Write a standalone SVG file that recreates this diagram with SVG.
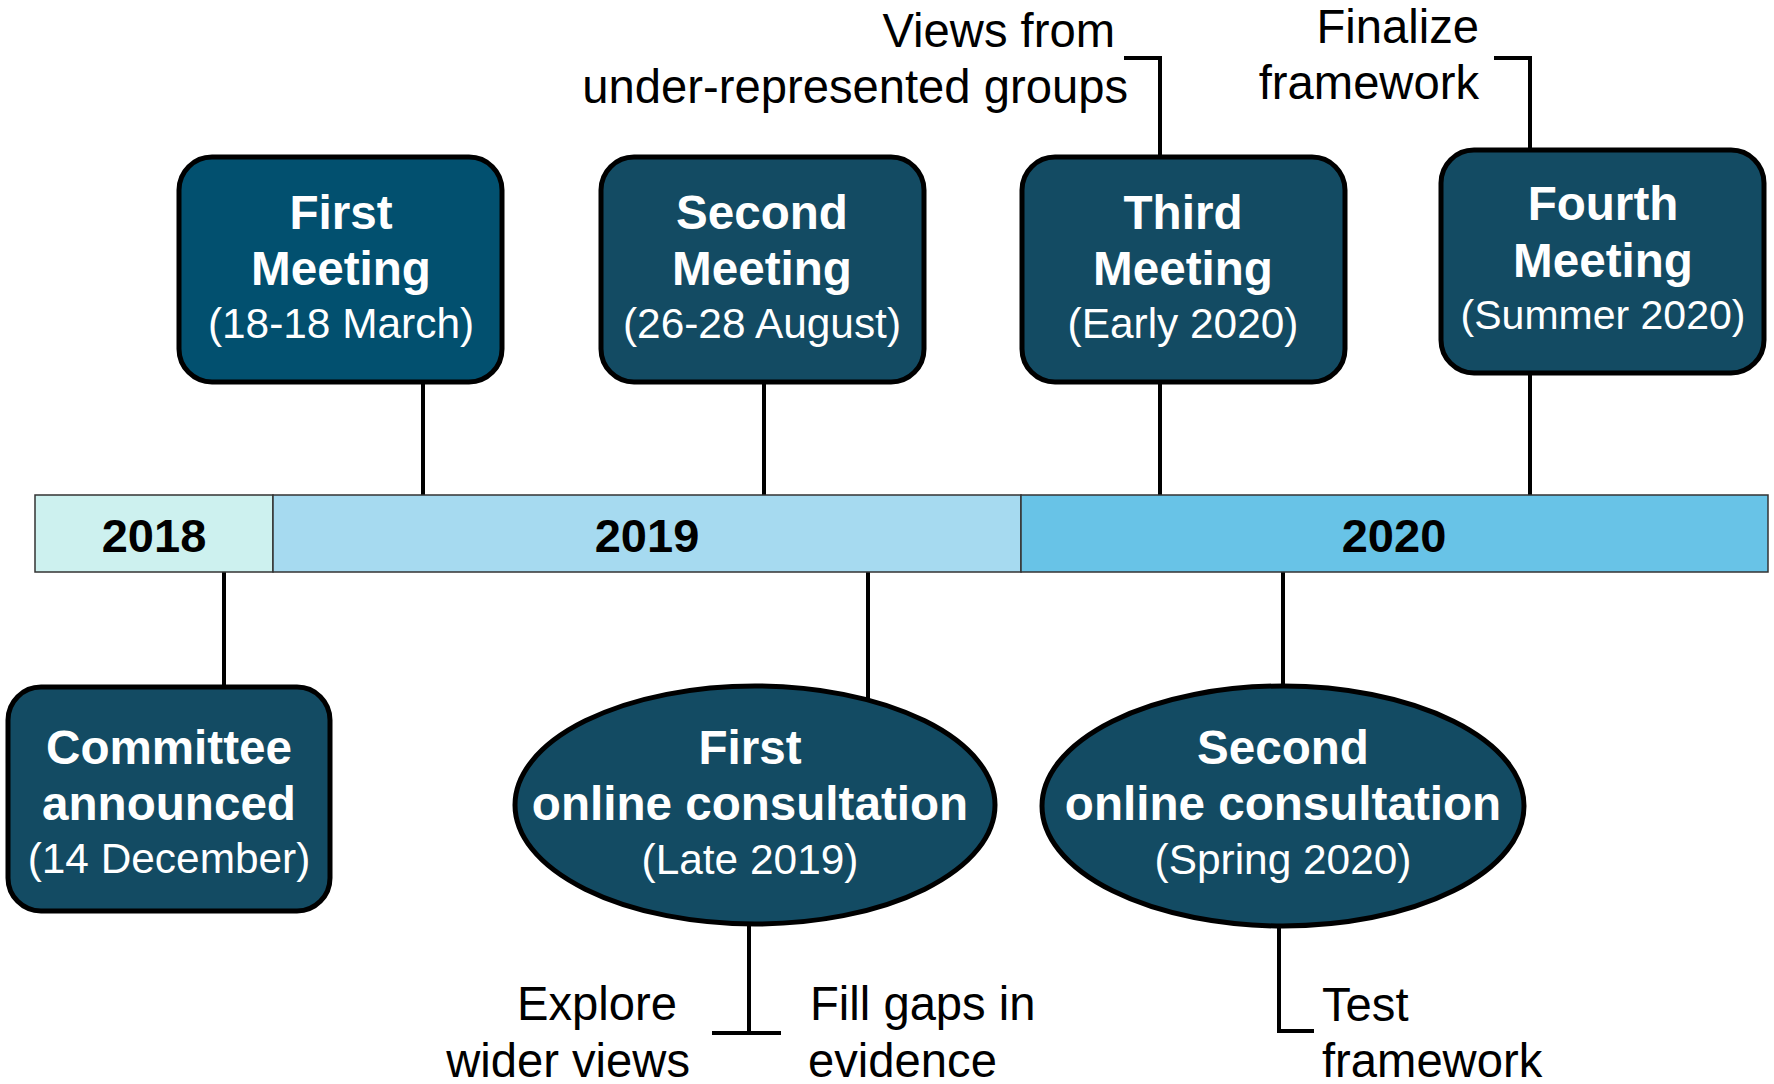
<svg xmlns="http://www.w3.org/2000/svg" width="1774" height="1084" viewBox="0 0 1774 1084">
<style>
.t{font-family:"Liberation Sans",Arial,sans-serif}
.b{font-weight:bold;font-size:47.6px;fill:#fff;text-anchor:middle}
.d{font-size:42.4px;fill:#fff;text-anchor:middle}
.y{font-weight:bold;font-size:47px;fill:#000;text-anchor:middle}
.n{font-size:47.2px;fill:#000}
.box{fill:#134b63;stroke:#000;stroke-width:5}
.conn{fill:none;stroke:#000;stroke-width:4}
.bar{stroke:#333;stroke-width:1.5}
</style>
<rect width="1774" height="1084" fill="#fff"/>
<g id="connectors" class="conn">
<path d="M423 382V495"/>
<path d="M764 382V495"/>
<path d="M1160 382V495"/>
<path d="M1530 373V495"/>
<path d="M1124 58H1160V157"/>
<path d="M1494 58H1530V150"/>
<path d="M224 572V687"/>
<path d="M868 572V712"/>
<path d="M1283 572V690"/>
<path d="M749 920V1033M712 1033H781"/>
<path d="M1279 922V1031H1314"/>
</g>
<g id="timeline">
<rect class="bar" x="35" y="495" width="238" height="77" fill="#cdf1ef"/>
<rect class="bar" x="273" y="495" width="748" height="77" fill="#a6daf0"/>
<rect class="bar" x="1021" y="495" width="747" height="77" fill="#68c3e7"/>
<text class="t y" x="154" y="552">2018</text>
<text class="t y" x="647" y="552">2019</text>
<text class="t y" x="1394" y="552">2020</text>
</g>
<g id="first-meeting">
<rect class="box" x="179" y="157" width="323" height="225" rx="33" style="fill:#02506f"/>
<text class="t b" x="341" y="229">First</text>
<text class="t b" x="341" y="285">Meeting</text>
<text class="t d" x="341" y="338">(18-18 March)</text>
</g>
<g id="second-meeting">
<rect class="box" x="601" y="157" width="323" height="225" rx="33"/>
<text class="t b" x="762" y="229">Second</text>
<text class="t b" x="762" y="285">Meeting</text>
<text class="t d" x="762" y="338">(26-28 August)</text>
</g>
<g id="third-meeting">
<rect class="box" x="1022" y="157" width="323" height="225" rx="33"/>
<text class="t b" x="1183" y="229">Third</text>
<text class="t b" x="1183" y="285">Meeting</text>
<text class="t d" x="1183" y="338">(Early 2020)</text>
</g>
<g id="fourth-meeting">
<rect class="box" x="1441" y="150" width="323" height="223" rx="33"/>
<text class="t b" x="1603" y="220">Fourth</text>
<text class="t b" x="1603" y="277">Meeting</text>
<text class="t d" x="1603" y="329" style="font-size:41px">(Summer 2020)</text>
</g>
<g id="committee">
<rect class="box" x="8" y="687" width="322" height="224" rx="33"/>
<text class="t b" x="169" y="764">Committee</text>
<text class="t b" x="169" y="820">announced</text>
<text class="t d" x="169" y="873">(14 December)</text>
</g>
<g id="first-consultation">
<ellipse class="box" cx="755" cy="805" rx="240" ry="119"/>
<text class="t b" x="750" y="764">First</text>
<text class="t b" x="750" y="820">online consultation</text>
<text class="t d" x="750" y="874">(Late 2019)</text>
</g>
<g id="second-consultation">
<ellipse class="box" cx="1283" cy="806" rx="241" ry="120"/>
<text class="t b" x="1283" y="764">Second</text>
<text class="t b" x="1283" y="820">online consultation</text>
<text class="t d" x="1283" y="874">(Spring 2020)</text>
</g>
<g id="labels">
<text class="t n" x="1115" y="47" text-anchor="end">Views from</text>
<text class="t n" x="1128" y="103" text-anchor="end">under-represented groups</text>
<text class="t n" x="1479" y="43" text-anchor="end">Finalize</text>
<text class="t n" x="1479" y="99" text-anchor="end">framework</text>
<text class="t n" x="677" y="1020" text-anchor="end">Explore</text>
<text class="t n" x="690" y="1077" text-anchor="end">wider views</text>
<text class="t n" x="810" y="1020">Fill gaps in</text>
<text class="t n" x="808" y="1077">evidence</text>
<text class="t n" x="1322" y="1021">Test</text>
<text class="t n" x="1322" y="1077">framework</text>
</g>
</svg>
